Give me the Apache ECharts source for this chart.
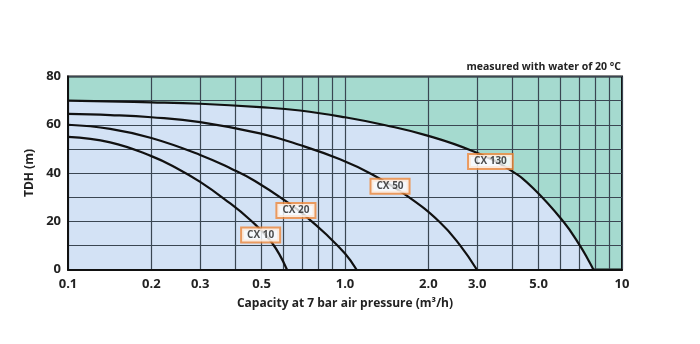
<!DOCTYPE html>
<html>
<head>
<meta charset="utf-8">
<script src="https://cdn.jsdelivr.net/npm/echarts@6/dist/echarts.min.js"></script>
<style>
html,body{margin:0;padding:0;background:#fff;}
#chart{width:700px;height:344px;}
</style>
</head>
<body>
<div id="chart"></div>
<script>
// Curve data: capacity (m³/h) and TDH (m)
var cx10X = [0.1, 0.142, 0.2, 0.246, 0.3, 0.369, 0.454, 0.544, 0.617];
var cx10Y = [55, 52.7, 47.0, 42.1, 36.3, 29.0, 20.6, 11.2, 0];

var cx20X = [0.1, 0.142, 0.2, 0.3, 0.39, 0.473, 0.634, 0.718, 0.847, 1.0, 1.1];
var cx20Y = [60, 58.3, 54.5, 47.5, 41.7, 36.7, 27.1, 22.3, 15.0, 6.6, 0];

var cx50X = [0.1, 0.142, 0.2, 0.3, 0.493, 0.688, 0.959, 1.25, 1.67, 2.2, 2.6, 2.99];
var cx50Y = [64.5, 64.0, 63.1, 61.1, 56.4, 51.6, 45.7, 39.5, 30.6, 19.6, 10.1, 0];

var cx130X = [0.1, 0.2, 0.3, 0.493, 0.688, 1.0, 1.4, 1.97, 2.9, 3.94, 4.79, 6.14, 7.05, 7.6, 7.88];
var cx130Y = [70, 69.3, 68.7, 67.3, 65.9, 63.1, 59.8, 55.6, 49.0, 41.3, 33.6, 19.9, 9.9, 3.4, 0];

// Curve name tags
var tagNames = ['CX 10', 'CX 20', 'CX 50', 'CX 130'];
var tagX = [0.496, 0.665, 1.454, 3.35];
var tagY = [14.3, 24.5, 34.5, 44.8];

// Axis ticks
var xGridValues = [0.1, 0.2, 0.3, 0.4, 0.5, 0.6, 0.7, 0.8, 0.9, 1, 2, 3, 4, 5, 6, 7, 8, 9, 10];
var xTickValues = [0.1, 0.2, 0.3, 0.5, 1, 2, 3, 5, 10];
var xTickLabels = ['0.1', '0.2', '0.3', '0.5', '1.0', '2.0', '3.0', '5.0', '10'];
var yTickLabels = [0, 20, 40, 60, 80];

function pairs(xs, ys) { return xs.map(function (x, i) { return [x, ys[i]]; }); }

var FONT = 'Open Sans';
var gridColor = '#3a4652';
var SMOOTH = 0.45;

var chart = echarts.init(document.getElementById('chart'), null, { renderer: 'canvas' });

function curve(name, xs, ys) {
  return {
    name: name, type: 'line', data: pairs(xs, ys), smooth: SMOOTH,
    symbol: 'none', z: 5,
    lineStyle: { color: '#111', width: 2.2 }
  };
}

var option = {
  animation: false,
  title: {
    text: 'measured with water of 20 °C',
    right: 79, top: 62, padding: 0,
    textStyle: { fontFamily: FONT, fontSize: 10.5, fontWeight: 'bold', color: '#222' }
  },
  grid: {
    left: 68, right: 78, top: 76.5, bottom: 74.5,
    show: true, backgroundColor: '#a5dacf', borderColor: '#111', borderWidth: 2
  },
  xAxis: {
    type: 'log', logBase: 10, min: 0.1, max: 10, z: 3,
    name: 'Capacity at 7 bar air pressure (m³/h)',
    nameLocation: 'middle', nameGap: 28,
    nameTextStyle: { fontFamily: FONT, fontSize: 12, fontWeight: 'bold', color: '#222' },
    axisLine: { show: true, lineStyle: { color: '#111', width: 2 } },
    axisTick: { show: false, customValues: xGridValues },
    axisLabel: {
      customValues: xTickValues, margin: 8,
      fontFamily: FONT, fontSize: 13, fontWeight: 'bold', color: '#222',
      formatter: function (v) {
        for (var i = 0; i < xTickValues.length; i++) {
          if (Math.abs(xTickValues[i] - v) < 1e-3 * xTickValues[i]) return xTickLabels[i];
        }
        return '';
      }
    },
    splitLine: { show: true, lineStyle: { color: gridColor, width: 1.2 } }
  },
  yAxis: {
    type: 'value', min: 0, max: 80, interval: 10, z: 3,
    name: 'TDH (m)', nameLocation: 'middle', nameGap: 29,
    nameTextStyle: { fontFamily: FONT, fontSize: 12, fontWeight: 'bold', color: '#222' },
    axisLine: { show: true, lineStyle: { color: '#111', width: 2 } },
    axisTick: { show: false },
    axisLabel: {
      margin: 7, fontFamily: FONT, fontSize: 13, fontWeight: 'bold', color: '#222',
      formatter: function (v) { return yTickLabels.indexOf(v) >= 0 ? String(v) : ''; }
    },
    splitLine: { show: true, lineStyle: { color: gridColor, width: 1.2 } }
  },
  series: [
    {
      name: 'area', type: 'line', data: pairs(cx130X, cx130Y), smooth: SMOOTH,
      symbol: 'none', z: 1, silent: true,
      lineStyle: { width: 0 },
      areaStyle: { color: '#d3e2f5', opacity: 1 }
    },
    curve('CX 10', cx10X, cx10Y),
    curve('CX 20', cx20X, cx20Y),
    curve('CX 50', cx50X, cx50Y),
    curve('CX 130', cx130X, cx130Y),
    {
      name: 'tags', type: 'scatter', z: 10, symbolSize: 0,
      data: tagNames.map(function (n, i) { return { value: [tagX[i], tagY[i]], name: n }; }),
      label: {
        show: true, position: 'inside',
        formatter: function (p) { return p.name; },
        fontFamily: FONT, fontSize: 10, fontWeight: 'bold', color: '#222',
        backgroundColor: '#fff', borderColor: '#f0883a', borderWidth: 2,
        padding: [2, 5, 1, 5]
      }
    }
  ]
};
chart.setOption(option);
</script>
</body>
</html>
